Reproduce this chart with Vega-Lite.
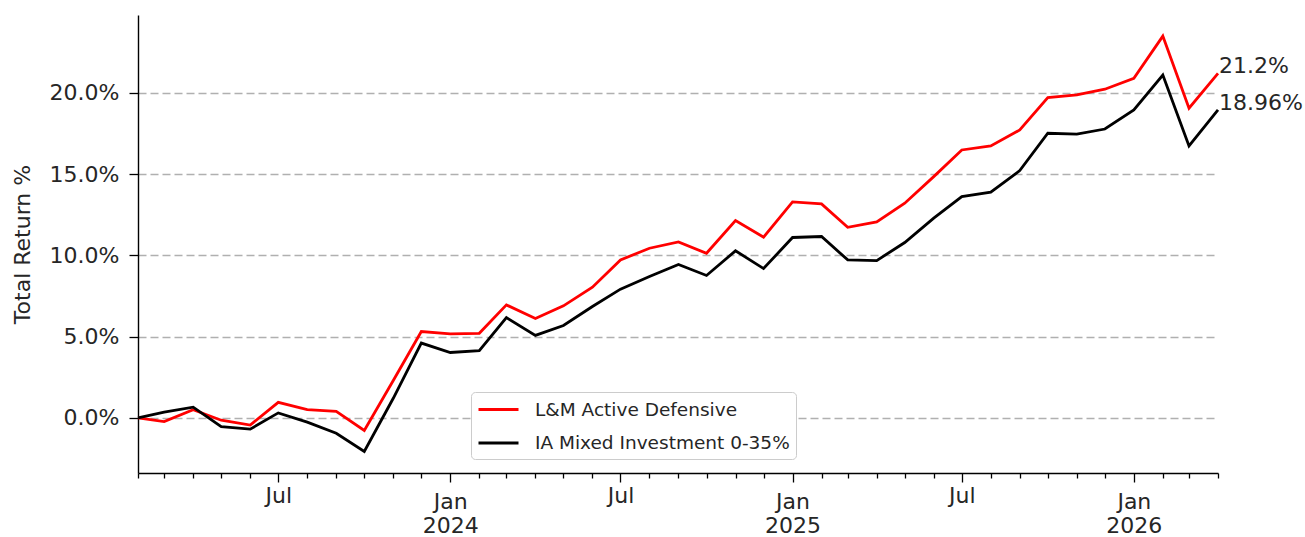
{
  "$schema": "https://vega.github.io/schema/vega-lite/v6.json",
  "autosize": {"type": "none"},
  "padding": {"left": 138, "top": 15, "right": 87, "bottom": 64},
  "width": 1080,
  "height": 458,
  "background": "white",
  "config": {
    "view": {"stroke": null},
    "font": "DejaVu Sans",
    "text": {"font": "DejaVu Sans"}
  },
  "datasets": {
    "series": [
      {"date": "2023-02-01", "fund": "L&M Active Defensive", "ret": 0},
      {"date": "2023-03-01", "fund": "L&M Active Defensive", "ret": -0.23},
      {"date": "2023-04-01", "fund": "L&M Active Defensive", "ret": 0.5},
      {"date": "2023-05-01", "fund": "L&M Active Defensive", "ret": -0.15},
      {"date": "2023-06-01", "fund": "L&M Active Defensive", "ret": -0.45},
      {"date": "2023-07-01", "fund": "L&M Active Defensive", "ret": 0.95},
      {"date": "2023-08-01", "fund": "L&M Active Defensive", "ret": 0.5},
      {"date": "2023-09-01", "fund": "L&M Active Defensive", "ret": 0.4},
      {"date": "2023-10-01", "fund": "L&M Active Defensive", "ret": -0.78},
      {"date": "2023-11-01", "fund": "L&M Active Defensive", "ret": 2.3},
      {"date": "2023-12-01", "fund": "L&M Active Defensive", "ret": 5.31},
      {"date": "2024-01-01", "fund": "L&M Active Defensive", "ret": 5.17},
      {"date": "2024-02-01", "fund": "L&M Active Defensive", "ret": 5.2},
      {"date": "2024-03-01", "fund": "L&M Active Defensive", "ret": 6.95},
      {"date": "2024-04-01", "fund": "L&M Active Defensive", "ret": 6.11},
      {"date": "2024-05-01", "fund": "L&M Active Defensive", "ret": 6.89},
      {"date": "2024-06-01", "fund": "L&M Active Defensive", "ret": 8.04},
      {"date": "2024-07-01", "fund": "L&M Active Defensive", "ret": 9.72},
      {"date": "2024-08-01", "fund": "L&M Active Defensive", "ret": 10.44},
      {"date": "2024-09-01", "fund": "L&M Active Defensive", "ret": 10.83},
      {"date": "2024-10-01", "fund": "L&M Active Defensive", "ret": 10.13},
      {"date": "2024-11-01", "fund": "L&M Active Defensive", "ret": 12.14},
      {"date": "2024-12-01", "fund": "L&M Active Defensive", "ret": 11.12},
      {"date": "2025-01-01", "fund": "L&M Active Defensive", "ret": 13.29},
      {"date": "2025-02-01", "fund": "L&M Active Defensive", "ret": 13.17},
      {"date": "2025-03-01", "fund": "L&M Active Defensive", "ret": 11.73},
      {"date": "2025-04-01", "fund": "L&M Active Defensive", "ret": 12.06},
      {"date": "2025-05-01", "fund": "L&M Active Defensive", "ret": 13.21},
      {"date": "2025-06-01", "fund": "L&M Active Defensive", "ret": 14.85},
      {"date": "2025-07-01", "fund": "L&M Active Defensive", "ret": 16.49},
      {"date": "2025-08-01", "fund": "L&M Active Defensive", "ret": 16.74},
      {"date": "2025-09-01", "fund": "L&M Active Defensive", "ret": 17.72},
      {"date": "2025-10-01", "fund": "L&M Active Defensive", "ret": 19.71},
      {"date": "2025-11-01", "fund": "L&M Active Defensive", "ret": 19.88},
      {"date": "2025-12-01", "fund": "L&M Active Defensive", "ret": 20.23},
      {"date": "2026-01-01", "fund": "L&M Active Defensive", "ret": 20.9},
      {"date": "2026-02-01", "fund": "L&M Active Defensive", "ret": 23.5},
      {"date": "2026-03-01", "fund": "L&M Active Defensive", "ret": 19.06},
      {"date": "2026-04-01", "fund": "L&M Active Defensive", "ret": 21.2},
      {"date": "2023-02-01", "fund": "IA Mixed Investment 0-35%", "ret": 0},
      {"date": "2023-03-01", "fund": "IA Mixed Investment 0-35%", "ret": 0.35},
      {"date": "2023-04-01", "fund": "IA Mixed Investment 0-35%", "ret": 0.65},
      {"date": "2023-05-01", "fund": "IA Mixed Investment 0-35%", "ret": -0.55},
      {"date": "2023-06-01", "fund": "IA Mixed Investment 0-35%", "ret": -0.7},
      {"date": "2023-07-01", "fund": "IA Mixed Investment 0-35%", "ret": 0.3},
      {"date": "2023-08-01", "fund": "IA Mixed Investment 0-35%", "ret": -0.27},
      {"date": "2023-09-01", "fund": "IA Mixed Investment 0-35%", "ret": -0.95},
      {"date": "2023-10-01", "fund": "IA Mixed Investment 0-35%", "ret": -2.07},
      {"date": "2023-11-01", "fund": "IA Mixed Investment 0-35%", "ret": 1.2},
      {"date": "2023-12-01", "fund": "IA Mixed Investment 0-35%", "ret": 4.6},
      {"date": "2024-01-01", "fund": "IA Mixed Investment 0-35%", "ret": 4.02},
      {"date": "2024-02-01", "fund": "IA Mixed Investment 0-35%", "ret": 4.14},
      {"date": "2024-03-01", "fund": "IA Mixed Investment 0-35%", "ret": 6.17},
      {"date": "2024-04-01", "fund": "IA Mixed Investment 0-35%", "ret": 5.07},
      {"date": "2024-05-01", "fund": "IA Mixed Investment 0-35%", "ret": 5.68},
      {"date": "2024-06-01", "fund": "IA Mixed Investment 0-35%", "ret": 6.85},
      {"date": "2024-07-01", "fund": "IA Mixed Investment 0-35%", "ret": 7.92},
      {"date": "2024-08-01", "fund": "IA Mixed Investment 0-35%", "ret": 8.7},
      {"date": "2024-09-01", "fund": "IA Mixed Investment 0-35%", "ret": 9.44},
      {"date": "2024-10-01", "fund": "IA Mixed Investment 0-35%", "ret": 8.76},
      {"date": "2024-11-01", "fund": "IA Mixed Investment 0-35%", "ret": 10.28},
      {"date": "2024-12-01", "fund": "IA Mixed Investment 0-35%", "ret": 9.19},
      {"date": "2025-01-01", "fund": "IA Mixed Investment 0-35%", "ret": 11.1},
      {"date": "2025-02-01", "fund": "IA Mixed Investment 0-35%", "ret": 11.16},
      {"date": "2025-03-01", "fund": "IA Mixed Investment 0-35%", "ret": 9.72},
      {"date": "2025-04-01", "fund": "IA Mixed Investment 0-35%", "ret": 9.68},
      {"date": "2025-05-01", "fund": "IA Mixed Investment 0-35%", "ret": 10.79},
      {"date": "2025-06-01", "fund": "IA Mixed Investment 0-35%", "ret": 12.29},
      {"date": "2025-07-01", "fund": "IA Mixed Investment 0-35%", "ret": 13.62},
      {"date": "2025-08-01", "fund": "IA Mixed Investment 0-35%", "ret": 13.89},
      {"date": "2025-09-01", "fund": "IA Mixed Investment 0-35%", "ret": 15.22},
      {"date": "2025-10-01", "fund": "IA Mixed Investment 0-35%", "ret": 17.52},
      {"date": "2025-11-01", "fund": "IA Mixed Investment 0-35%", "ret": 17.46},
      {"date": "2025-12-01", "fund": "IA Mixed Investment 0-35%", "ret": 17.78},
      {"date": "2026-01-01", "fund": "IA Mixed Investment 0-35%", "ret": 18.95},
      {"date": "2026-02-01", "fund": "IA Mixed Investment 0-35%", "ret": 21.1},
      {"date": "2026-03-01", "fund": "IA Mixed Investment 0-35%", "ret": 16.74},
      {"date": "2026-04-01", "fund": "IA Mixed Investment 0-35%", "ret": 18.96}
    ],
    "endLabels": [
      {"date": "2026-04-01", "ret": 21.2, "label": "21.2%"},
      {"date": "2026-04-01", "ret": 18.96, "label": "18.96%"}
    ]
  },
  "layer": [
    {
      "data": {"name": "series"},
      "mark": {"type": "line", "strokeWidth": 2.8, "clip": false},
      "encoding": {
        "x": {
          "field": "date",
          "type": "temporal",
          "scale": {"type": "utc", "nice": false, "domain": [{"year": 2023, "month": 2, "date": 1, "utc": true}, {"year": 2026, "month": 4, "date": 1, "utc": true}]},
          "axis": {
            "title": null,
            "grid": false,
            "tickCount": {"interval": "month", "step": 1},
            "labelExpr": "utcmonth(datum.value) == 6 ? 'Jul' : (utcmonth(datum.value) == 0 ? ['Jan', '' + utcyear(datum.value)] : '')",
            "labelOverlap": false,
            "labelFlush": false,
            "labelFont": "DejaVu Sans",
            "labelFontSize": 22,
            "labelColor": "#262626",
            "labelLineHeight": 24,
            "labelPadding": {"condition": {"test": "utcmonth(datum.value) == 0", "value": 9}, "value": 3},
            "domainColor": "#000000",
            "domainWidth": 1.4,
            "tickColor": "#000000",
            "tickWidth": 1.3,
            "tickSize": {"condition": {"test": "utcmonth(datum.value) % 6 == 0", "value": 9}, "value": 5}
          }
        },
        "y": {
          "field": "ret",
          "type": "quantitative",
          "scale": {"domain": [-3.4, 24.8], "nice": false, "zero": false},
          "axis": {
            "title": "Total Return %",
            "titleFont": "DejaVu Sans",
            "titleFontSize": 22,
            "titleFontWeight": "normal",
            "titleColor": "#262626",
            "titlePadding": 15,
            "values": [0, 5, 10, 15, 20],
            "labelExpr": "format(datum.value, '.1f') + '%'",
            "labelFont": "DejaVu Sans",
            "labelFontSize": 22,
            "labelColor": "#262626",
            "labelPadding": 10,
            "domainColor": "#000000",
            "domainWidth": 1.4,
            "tickColor": "#000000",
            "tickWidth": 1.3,
            "tickSize": 9,
            "grid": true,
            "gridColor": "#b0b0b0",
            "gridDash": [8, 4],
            "gridWidth": 1.3
          }
        },
        "color": {
          "field": "fund",
          "type": "nominal",
          "sort": ["L&M Active Defensive", "IA Mixed Investment 0-35%"],
          "scale": {"domain": ["L&M Active Defensive", "IA Mixed Investment 0-35%"], "range": ["#ff0000", "#000000"]},
          "legend": {
            "title": null,
            "orient": "none",
            "legendX": 333,
            "legendY": 377,
            "symbolType": "M-2,0H2",
            "symbolSize": 400,
            "symbolOffset": 10,
            "symbolStrokeWidth": 3,
            "labelFont": "DejaVu Sans",
            "labelFontSize": 18.5,
            "labelColor": "#262626",
            "labelLimit": 400,
            "labelOffset": 25,
            "rowPadding": 12.6,
            "padding": 6,
            "fillColor": "white",
            "strokeColor": "#cccccc",
            "cornerRadius": 4
          }
        }
      }
    },
    {
      "data": {"name": "endLabels"},
      "mark": {"type": "text", "align": "left", "baseline": "alphabetic", "dx": 1, "fontSize": 22, "font": "DejaVu Sans", "color": "#262626", "clip": false},
      "encoding": {
        "x": {"field": "date", "type": "temporal"},
        "y": {"field": "ret", "type": "quantitative"},
        "text": {"field": "label", "type": "nominal"}
      }
    }
  ]
}
